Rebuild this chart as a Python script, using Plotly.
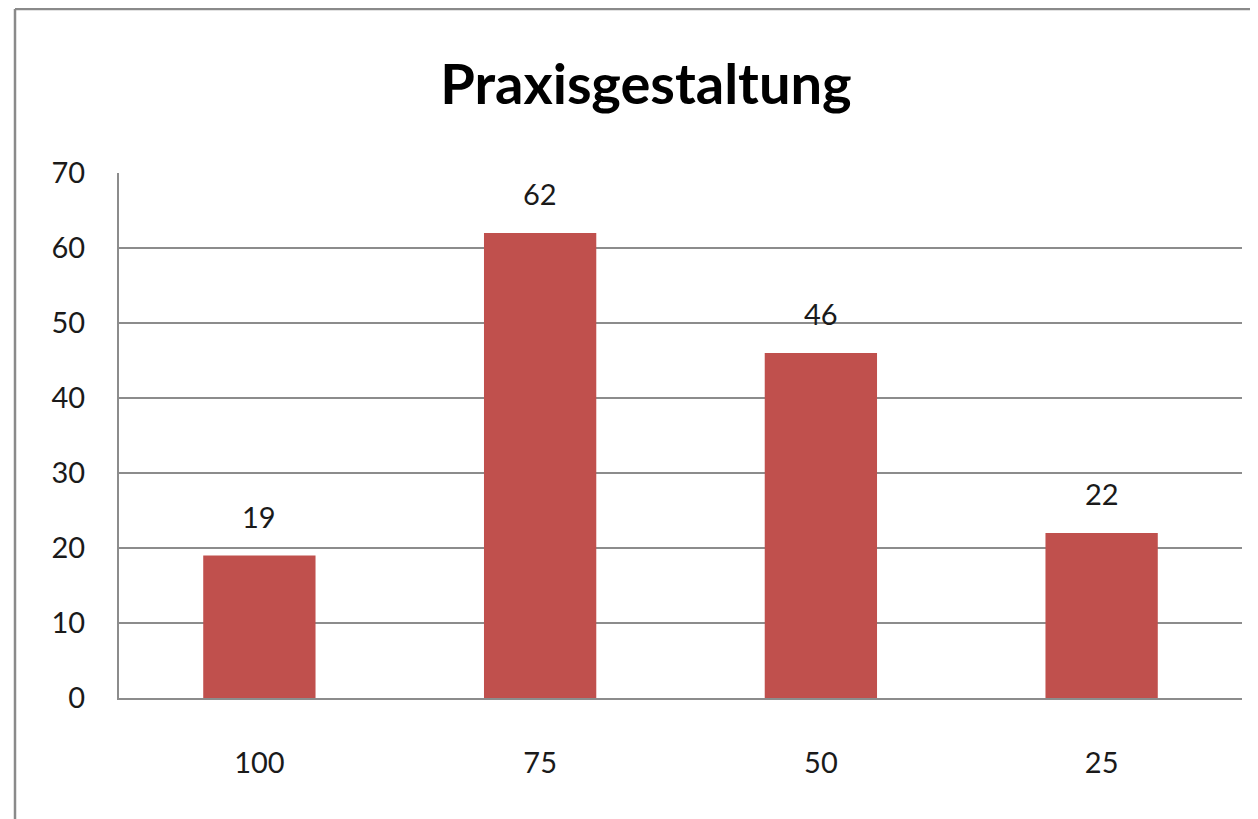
import plotly.graph_objects as go

categories = ["100", "75", "50", "25"]
values = [19, 62, 46, 22]
y_ticks = [0, 10, 20, 30, 40, 50, 60, 70]
title_text = "Praxisgestaltung"

BAR_COLOR = "#C0504D"
GRID = "#8C8C8C"
FONT = "Lato, 'Open Sans', sans-serif"

fig = go.Figure()
fig.add_trace(go.Bar(x=categories, y=values, marker=dict(color=BAR_COLOR, line=dict(width=0)),
                     hoverinfo="x+y"))

# on a category axis numeric-looking strings are read as indices, so use the index
for i, v in enumerate(values):
    fig.add_annotation(x=i, y=v, text=str(v), showarrow=False, yanchor="bottom",
                       yshift=20, font=dict(family=FONT, size=29, color="#1a1a1a"))

# page body has an 8px offset; work in figure pixel coordinates
OFF = 8
W, H = 1258, 819
L, T = 119 - OFF, 173 - OFF
R = W - (1242 - OFF)
B = H - (698 - OFF)
pw, ph = W - L - R, H - T - B

def px(xs):
    return (xs - OFF - L) / pw

def py(ys):
    return (H - B - (ys - OFF)) / ph

# outer chart border (left and top)
fig.add_shape(type="line", xref="paper", yref="paper", x0=px(15), x1=px(1270), y0=py(9), y1=py(9),
              line=dict(color="#8A8A8A", width=2.5))
fig.add_shape(type="line", xref="paper", yref="paper", x0=px(15), x1=px(15), y0=py(9), y1=py(840),
              line=dict(color="#8A8A8A", width=2.5))

fig.update_layout(
    width=W, height=H,
    margin=dict(l=L, r=R, t=T, b=B),
    paper_bgcolor="white", plot_bgcolor="white",
    bargap=0.6,
    showlegend=False,
    title=dict(text="<b>" + title_text + "</b>", x=((440 + 852) / 2 - OFF) / W, xanchor="center",
               y=1 - (84 - OFF) / H, yanchor="middle",
               font=dict(family=FONT, size=56, color="black")),
    font=dict(family=FONT, color="#1a1a1a"),
)
fig.update_xaxes(type="category", range=[-0.5, len(categories) - 0.5], showgrid=False,
                 showline=True, linecolor=GRID, linewidth=2,
                 tickfont=dict(size=29, family=FONT, color="#1a1a1a"), ticks="",
                 ticklabelstandoff=38)
fig.update_yaxes(range=[0, 70], tickvals=y_ticks, showgrid=True, gridcolor=GRID, gridwidth=1.5,
                 showline=True, linecolor=GRID, linewidth=2, zeroline=False,
                 tickfont=dict(size=29, family=FONT, color="#1a1a1a"), ticks="",
                 ticklabelstandoff=26)

fig.write_html("out.html")
